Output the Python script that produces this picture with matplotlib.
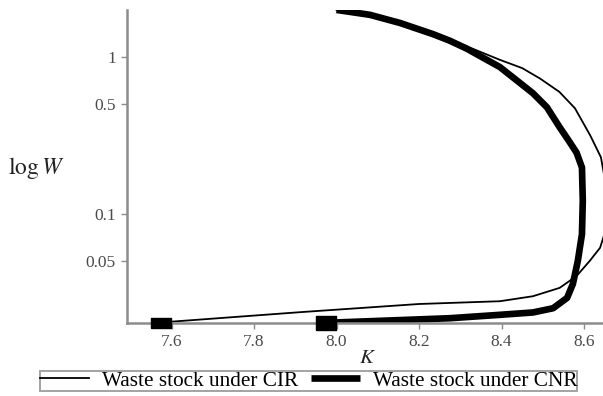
import matplotlib
matplotlib.use("Agg")
import matplotlib.pyplot as plt

plt.rcParams["font.family"] = ["Liberation Serif", "DejaVu Serif"]
plt.rcParams["mathtext.fontset"] = "stix"

# Waste stock under CIR (thin curve)
k_cir = [7.575, 7.596, 7.912, 8.20, 8.396, 8.476, 8.541, 8.582, 8.614, 8.639,
         8.656, 8.66, 8.651, 8.641, 8.615, 8.578, 8.54, 8.493, 8.45, 8.396,
         8.316, 8.251, 8.195, 8.154, 8.08, 8.0]
w_cir = [0.020, 0.0204, 0.0235, 0.0265, 0.0276, 0.0297, 0.0336, 0.040, 0.050, 0.0606,
         0.084, 0.121, 0.163, 0.229, 0.316, 0.471, 0.60, 0.73, 0.85, 0.96,
         1.17, 1.36, 1.53, 1.65, 1.86, 2.0]

# Waste stock under CNR (thick curve)
k_cnr = [7.975, 8.0, 8.275, 8.396, 8.476, 8.525, 8.559, 8.573, 8.585, 8.595,
         8.597, 8.595, 8.582, 8.562, 8.541, 8.51, 8.476, 8.396, 8.316, 8.275,
         8.234, 8.154, 8.081, 8.0]
w_cnr = [0.0201, 0.0202, 0.0215, 0.0226, 0.0234, 0.0249, 0.029, 0.0356, 0.050, 0.074,
         0.121, 0.197, 0.245, 0.295, 0.356, 0.478, 0.588, 0.863, 1.13, 1.27,
         1.40, 1.65, 1.86, 2.0]

x_ticks = [7.6, 7.8, 8.0, 8.2, 8.4, 8.6]
y_ticks = [0.05, 0.1, 0.5, 1]
y_tick_labels = ["0.05", "0.1", "0.5", "1"]

fig = plt.figure(figsize=(6.03, 3.96), dpi=100)
ax = fig.add_axes([0.2106, 0.184, 0.7894, 0.791])

box_thin = [(-1, -0.45), (1, -0.45), (1, 0.45), (-1, 0.45), (-1, -0.45)]
box_thick = [(-1, -0.7), (1, -0.7), (1, 0.7), (-1, 0.7), (-1, -0.7)]

ax.plot(k_cir, w_cir, color="black", lw=1.3, label="Waste stock under CIR",
        solid_joinstyle="round")
ax.plot(k_cnr, w_cnr, color="black", lw=4.8, label="Waste stock under CNR",
        solid_joinstyle="round", solid_capstyle="butt")
ax.plot(k_cir[0], w_cir[0], marker=box_thin, ms=14.5, color="black", lw=0,
        clip_on=False, zorder=5)
ax.plot(k_cnr[0], w_cnr[0], marker=box_thick, ms=14.5, color="black", lw=0,
        clip_on=False, zorder=5)

ax.set_yscale("log")
ax.set_xlim(7.492, 8.646)
ax.set_ylim(0.02, 2.0)
ax.set_xticks(x_ticks)
ax.set_xticklabels([f"{v:.1f}" for v in x_ticks])
ax.set_yticks(y_ticks)
ax.set_yticklabels(y_tick_labels)
ax.yaxis.set_minor_locator(matplotlib.ticker.NullLocator())

for side in ["top", "right"]:
    ax.spines[side].set_visible(False)
for side in ["left", "bottom"]:
    ax.spines[side].set_color("#8c8c8c")
    ax.spines[side].set_linewidth(1.8)
ax.tick_params(axis="both", colors="#8c8c8c", labelcolor="#4a4a4a",
               labelsize=12.5, length=4, width=1, direction="out", pad=4)

ax.set_xlabel("$K$", fontsize=15, color="#222222", labelpad=0)
ax.xaxis.set_label_coords(0.505, -0.082)
ax.set_ylabel(r"$\log W$", fontsize=17, rotation=0, color="#222222",
              va="center", ha="center")
ax.yaxis.set_label_coords(-0.19, 0.495)

leg = fig.legend(loc="lower center", bbox_to_anchor=(0.512, 0.003), ncol=2,
                 frameon=True, fancybox=False, fontsize=15.3, handlelength=2.3,
                 columnspacing=0.6, handletextpad=0.6, borderpad=0.0,
                 borderaxespad=0.2)
leg.get_frame().set_edgecolor("#8c8c8c")
leg.get_frame().set_linewidth(1.4)

fig.savefig("out.png", dpi=100)
